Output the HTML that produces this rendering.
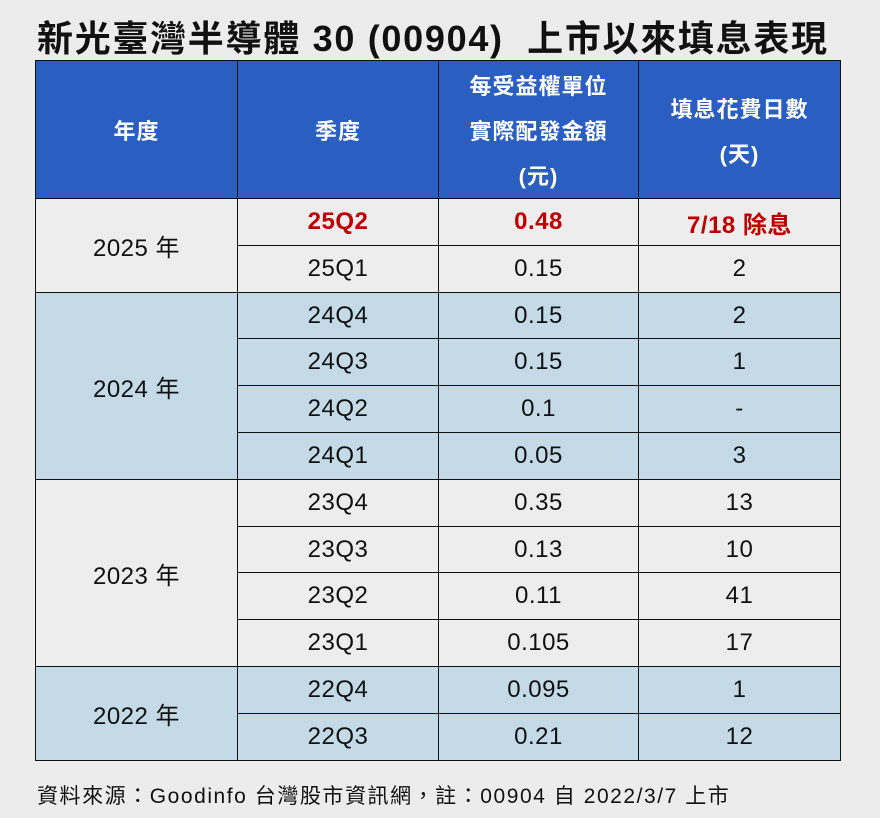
<!DOCTYPE html>
<html><head><meta charset="utf-8">
<style>
body{margin:0;width:880px;height:818px;background:#ececec;font-family:"Liberation Sans","Noto Sans CJK TC",sans-serif;position:relative;overflow:hidden}
#title{position:absolute;left:37px;top:10px;font-size:36px;font-weight:bold;color:#111;white-space:nowrap;letter-spacing:1.7px}
#tbl{position:absolute;left:35px;top:60px}
.c{position:absolute;box-sizing:border-box;border:1px solid #111;display:flex;align-items:center;justify-content:center;text-align:center;font-size:24px;color:#111;letter-spacing:0.5px}
.h{background:#2a5fc1;color:#fff;font-weight:bold;font-size:22px;line-height:45px;letter-spacing:1px;padding-top:4px}
.g{background:#ededed}.b{background:#c4dae7}
.red{color:#c00000;font-weight:bold}
#foot{position:absolute;left:37px;top:780px;font-size:21px;color:#111;white-space:nowrap;letter-spacing:1.55px}
</style></head><body>
<div id="title">新光臺灣半導體 30 (00904)&nbsp; 上市以來填息表現</div>
<div id="tbl"></div>
<div id="foot">資料來源：Goodinfo 台灣股市資訊網，註：00904 自 2022/3/7 上市</div>
<script>
const years=["2025 年","2024 年","2023 年","2022 年"];
const yearSpans=[2,4,4,2];
const quarters=["25Q2","25Q1","24Q4","24Q3","24Q2","24Q1","23Q4","23Q3","23Q2","23Q1","22Q4","22Q3"];
const amounts=["0.48","0.15","0.15","0.15","0.1","0.05","0.35","0.13","0.11","0.105","0.095","0.21"];
const days=["7/18 除息","2","2","1","-","3","13","10","41","17","1","12"];
const colX=[0,202,403,603,805];
const headH=138,rowH=46.8;
const t=document.getElementById('tbl');
function cell(x,y,w,h,cls,html,name){
 const d=document.createElement('div');
 d.className='c '+cls;
 d.style.left=x+'px';d.style.top=y+'px';d.style.width=(w+1)+'px';d.style.height=(h+1)+'px';
 d.innerHTML=html;
 
 
 t.appendChild(d);
}
const heads=["年度","季度","每受益權單位<br>實際配發金額<br>(元)","填息花費日數<br>(天)"];
heads.forEach((h,i)=>cell(colX[i],0,colX[i+1]-colX[i],headH,'h',h,'header-'+i));
let r=0;
years.forEach((y,i)=>{
 const cls=i%2?'b':'g';
 const top=headH+r*rowH;
 cell(colX[0],Math.round(top),colX[1],Math.round(yearSpans[i]*rowH),cls,y,'year-cell-'+i);
 for(let k=0;k<yearSpans[i];k++){
  const ri=r+k, yy=Math.round(headH+ri*rowH), hh=Math.round(headH+(ri+1)*rowH)-yy;
  const red=ri===0?' red':'';
  cell(colX[1],yy,colX[2]-colX[1],hh,cls+red,quarters[ri],'quarter-'+quarters[ri]);
  cell(colX[2],yy,colX[3]-colX[2],hh,cls+red,amounts[ri],'amount-'+quarters[ri]);
  cell(colX[3],yy,colX[4]-colX[3],hh,cls+red,days[ri],'days-'+quarters[ri]);
 }
 r+=yearSpans[i];
});
</script>
</body></html>
